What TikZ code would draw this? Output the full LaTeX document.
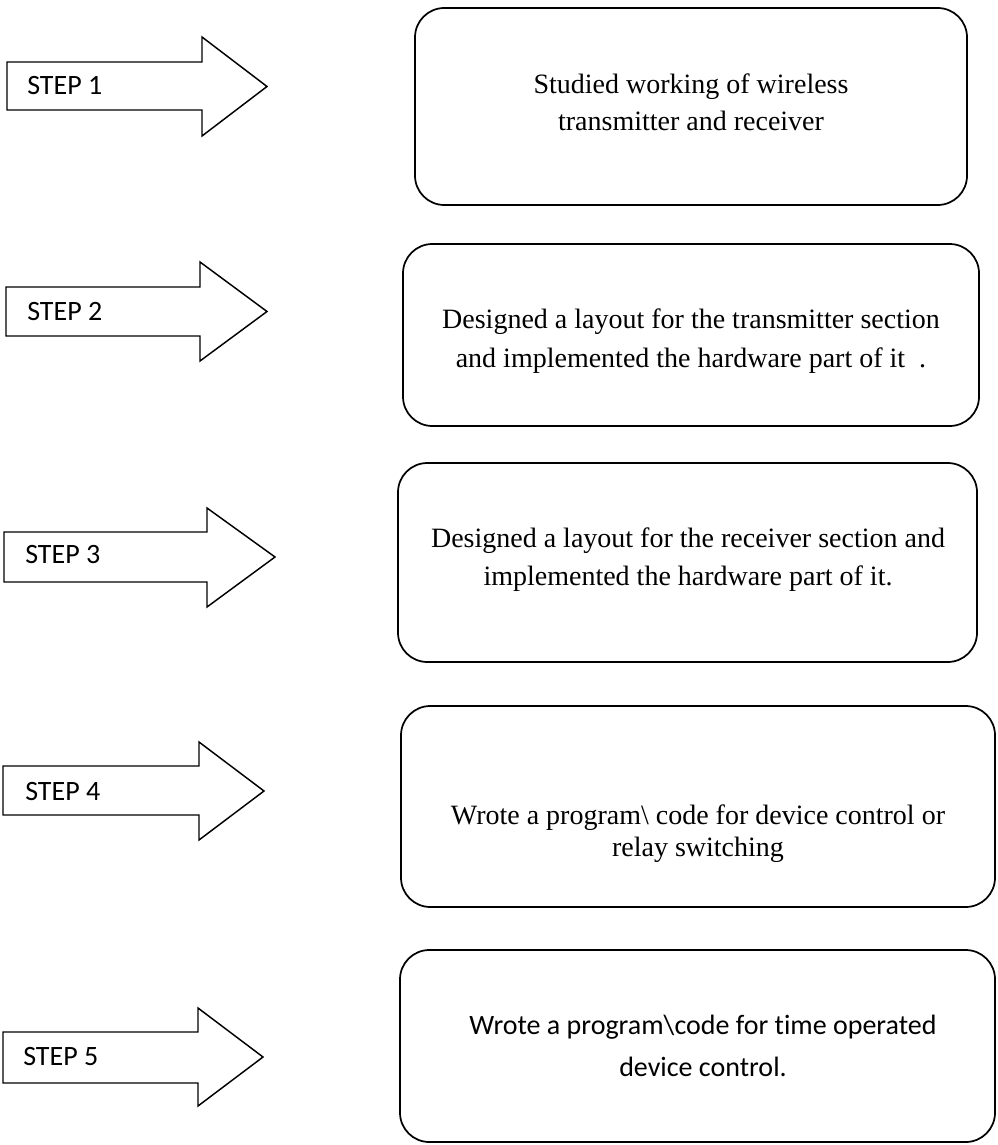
\documentclass[tikz,border=0pt]{standalone}
\usepackage{fontspec}
\setmainfont{Liberation Serif}
\newfontfamily\calfont[Ligatures=NoCommon]{Carlito}
\begin{document}
\begin{tikzpicture}[x=0.75pt,y=-0.75pt,
  stepbox/.style={draw=black, line width=1.3pt, rounded corners=22pt, inner sep=0pt, outer sep=0pt, fill=none},
  steparrow/.style={draw=black, line width=1.1pt, line join=miter, fill=white},
  steplabel/.style={anchor=base west, inner sep=0pt, font=\calfont\fontsize{21}{25}\selectfont},
  boxtext/.style={align=center, inner sep=0pt, font=\fontsize{21}{28}\selectfont},
]
\useasboundingbox[fill=white] (0,0) rectangle (997,1145);

% ---- rounded boxes ----
\node[stepbox, minimum width=414pt, minimum height=147.75pt] (box1) at (691,106.5) {};
\node[stepbox, minimum width=432pt, minimum height=136.5pt] (box2) at (691,335) {};
\node[stepbox, minimum width=434.25pt, minimum height=149.25pt] (box3) at (687.5,562.5) {};
\node[stepbox, minimum width=445.5pt, minimum height=150.75pt] (box4) at (698,806.5) {};
\node[stepbox, minimum width=446.25pt, minimum height=144pt] (box5) at (697.5,1046) {};

% ---- box texts ----
\node[boxtext, font=\fontsize{21}{28}\selectfont] (t1) at (691,102) {Studied working of wireless\\transmitter and receiver};
\node[boxtext, font=\fontsize{21}{29}\selectfont] (t2) at (691,341) {Designed a layout for the transmitter section\\and implemented the hardware part of it~~.};
\node[boxtext, font=\fontsize{21}{28.5}\selectfont] (t3) at (688,559.5) {Designed a layout for the receiver section and\\implemented the hardware part of it.};
\node[boxtext, font=\fontsize{21}{24}\selectfont] (t4) at (698,834) {Wrote a program\textbackslash{} code for device control or\\relay switching};
\node[boxtext, font=\calfont\fontsize{21}{32}\selectfont] (t5) at (703,1046) {Wrote a program\textbackslash{}code for time operated\\device control.};

% ---- block arrows ----
\draw[steparrow] (7,62) coordinate (a1) -- (202,62) -- (202,37) -- (267,86.5) coordinate (tip1) -- (202,136) -- (202,110) -- (7,110) -- cycle;
\draw[steparrow] (6,287) coordinate (a2) -- (200,287) -- (200,262) -- (267,311.5) coordinate (tip2) -- (200,361) -- (200,336) -- (6,336) -- cycle;
\draw[steparrow] (4,532) coordinate (a3) -- (207,532) -- (207,508) -- (275,557) coordinate (tip3) -- (207,607) -- (207,582) -- (4,582) -- cycle;
\draw[steparrow] (3,766) coordinate (a4) -- (199,766) -- (199,742) -- (264,791) coordinate (tip4) -- (199,840) -- (199,815) -- (3,815) -- cycle;
\draw[steparrow] (3,1032) coordinate (a5) -- (198,1032) -- (198,1008) -- (263,1057) coordinate (tip5) -- (198,1106) -- (198,1083) -- (3,1083) -- cycle;

% ---- step labels ----
\node[steplabel] (s1) at (27,95) {STEP 1};
\node[steplabel] (s2) at (27,320) {STEP 2};
\node[steplabel] (s3) at (25,563) {STEP 3};
\node[steplabel] (s4) at (25,800) {STEP 4};
\node[steplabel] (s5) at (23,1065) {STEP 5};
\end{tikzpicture}
\end{document}
